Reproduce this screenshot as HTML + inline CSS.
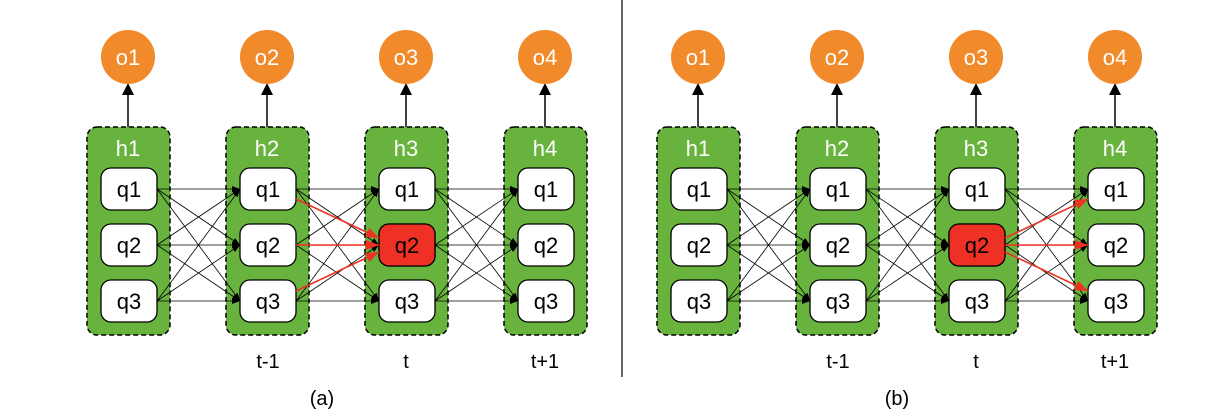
<!DOCTYPE html>
<html><head><meta charset="utf-8"><style>
html,body{margin:0;padding:0;background:#fff}
svg{display:block}
text{font-family:"Liberation Sans",sans-serif}
</style></head><body>
<svg width="1224" height="416" viewBox="0 0 1224 416" xmlns="http://www.w3.org/2000/svg">
<defs>
<marker id="ab" markerWidth="8" markerHeight="6" refX="8" refY="3" orient="auto" markerUnits="userSpaceOnUse"><path d="M0,0 L8,3 L0,6 z" fill="#000"/></marker>
<marker id="ar" markerWidth="13" markerHeight="10" refX="13" refY="5" orient="auto" markerUnits="userSpaceOnUse"><path d="M0,0 L13,5 L0,10 z" fill="#ee3124"/></marker>
<g id="conn" stroke="#000" stroke-width="0.8" fill="none" marker-end="url(#ab)">
<line x1="157" y1="189" x2="240" y2="189"/><line x1="157" y1="189" x2="240" y2="245"/><line x1="157" y1="189" x2="240" y2="301"/>
<line x1="157" y1="245" x2="240" y2="189"/><line x1="157" y1="245" x2="240" y2="245"/><line x1="157" y1="245" x2="240" y2="301"/>
<line x1="157" y1="301" x2="240" y2="189"/><line x1="157" y1="301" x2="240" y2="245"/><line x1="157" y1="301" x2="240" y2="301"/>
</g>
<g id="col">
<line x1="128" y1="127" x2="128" y2="92" stroke="#000" stroke-width="1.5"/>
<path d="M122,95 L128,83 L134,95 z" fill="#000"/>
<circle cx="128" cy="57" r="27" fill="#f08a2b"/>
<rect x="87" y="127" width="83" height="208" rx="10" fill="#68b23e" stroke="#000" stroke-width="1.5" stroke-dasharray="5,3"/>
</g>
<g id="qs">
<rect x="101" y="168" width="56" height="42" rx="10" fill="#fff" stroke="#000" stroke-width="1.3"/>
<rect x="101" y="224" width="56" height="42" rx="10" fill="#fff" stroke="#000" stroke-width="1.3"/>
<rect x="101" y="280" width="56" height="42" rx="10" fill="#fff" stroke="#000" stroke-width="1.3"/>
</g>
</defs>

<line x1="622" y1="0" x2="622" y2="377" stroke="#333" stroke-width="1.5"/>

<g>
<use href="#col"/><use href="#col" transform="translate(139,0)"/><use href="#col" transform="translate(278,0)"/><use href="#col" transform="translate(417,0)"/>
<use href="#conn"/><use href="#conn" transform="translate(139,0)"/><use href="#conn" transform="translate(278,0)"/>
<use href="#qs"/><use href="#qs" transform="translate(139,0)"/><use href="#qs" transform="translate(278,0)"/><use href="#qs" transform="translate(417,0)"/>
</g>
<g transform="translate(570,0)">
<use href="#col"/><use href="#col" transform="translate(139,0)"/><use href="#col" transform="translate(278,0)"/><use href="#col" transform="translate(417,0)"/>
<use href="#conn"/><use href="#conn" transform="translate(139,0)"/><use href="#conn" transform="translate(278,0)"/>
<use href="#qs"/><use href="#qs" transform="translate(139,0)"/><use href="#qs" transform="translate(278,0)"/><use href="#qs" transform="translate(417,0)"/>
</g>

<rect x="379" y="224" width="56" height="42" rx="10" fill="#ee3124" stroke="#000" stroke-width="1.3"/>
<rect x="949" y="224" width="56" height="42" rx="10" fill="#ee3124" stroke="#000" stroke-width="1.3"/>
<g stroke="#ee3124" stroke-width="1.6" marker-end="url(#ar)">
<line x1="296" y1="199" x2="379" y2="238"/><line x1="296" y1="245" x2="379" y2="245"/><line x1="296" y1="291" x2="379" y2="252"/>
<line x1="1005" y1="238" x2="1088" y2="199"/><line x1="1005" y1="245" x2="1088" y2="245"/><line x1="1005" y1="252" x2="1088" y2="291"/>
</g>

<g font-size="22" text-anchor="middle" fill="#fff">
<text x="128" y="65">o1</text><text x="267" y="65">o2</text><text x="406" y="65">o3</text><text x="545" y="65">o4</text>
<text x="698" y="65">o1</text><text x="837" y="65">o2</text><text x="976" y="65">o3</text><text x="1115" y="65">o4</text>
<text x="128" y="156">h1</text><text x="267" y="156">h2</text><text x="406" y="156">h3</text><text x="545" y="156">h4</text>
<text x="698" y="156">h1</text><text x="837" y="156">h2</text><text x="976" y="156">h3</text><text x="1115" y="156">h4</text>
</g>
<g font-size="22" text-anchor="middle" fill="#000">
<text x="129" y="197">q1</text><text x="129" y="253">q2</text><text x="129" y="309">q3</text>
<text x="268" y="197">q1</text><text x="268" y="253">q2</text><text x="268" y="309">q3</text>
<text x="407" y="197">q1</text><text x="407" y="253">q2</text><text x="407" y="309">q3</text>
<text x="546" y="197">q1</text><text x="546" y="253">q2</text><text x="546" y="309">q3</text>
<text x="699" y="197">q1</text><text x="699" y="253">q2</text><text x="699" y="309">q3</text>
<text x="838" y="197">q1</text><text x="838" y="253">q2</text><text x="838" y="309">q3</text>
<text x="977" y="197">q1</text><text x="977" y="253">q2</text><text x="977" y="309">q3</text>
<text x="1116" y="197">q1</text><text x="1116" y="253">q2</text><text x="1116" y="309">q3</text>
</g>
<g font-size="20" text-anchor="middle" fill="#000">
<text x="268" y="368">t-1</text><text x="406" y="368">t</text><text x="545" y="368">t+1</text>
<text x="838" y="368">t-1</text><text x="976" y="368">t</text><text x="1115" y="368">t+1</text>
<text x="322" y="405">(a)</text><text x="897" y="405">(b)</text>
</g>
</svg>
</body></html>
